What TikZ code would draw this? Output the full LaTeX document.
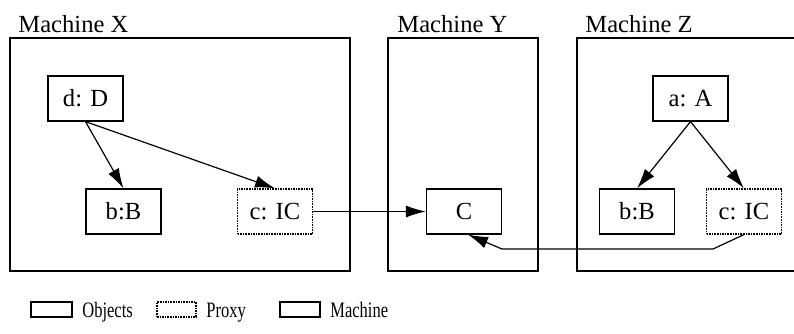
\documentclass[tikz,border=0pt]{standalone}
\usepackage{fontspec}
\setmainfont{Liberation Serif}
\usetikzlibrary{arrows.meta}

\begin{document}
\begin{tikzpicture}[x=0.5pt,y=-0.5pt,
     obj/.style={draw,line width=0.6pt,minimum width=37.5pt,
       minimum height=22.5pt,inner sep=0pt,font=\fontsize{12.3}{14}\selectfont},
     proxy/.style={obj,dash pattern=on 0.8pt off 0.5pt},
     machine/.style={draw,line width=1.4pt,inner sep=0pt},
     lab/.style={inner sep=0pt,anchor=base west,font=\fontsize{12.3}{14}\selectfont},
     key/.style={inner sep=0pt,anchor=base west,font=\fontsize{11}{13}\selectfont},
     link/.style={-{Latex[length=10pt,width=6pt]},line width=0.6pt}]
    \clip (0,0) rectangle (794,333);
    % machines
    \node[machine,minimum width=170pt,minimum height=116.5pt] (mx) at (180,154.5) {};
    \node[machine,minimum width=75pt,minimum height=116.5pt] (my) at (463,154.5) {};
    \node[machine,minimum width=120pt,minimum height=116.5pt] (mz) at (697,154.5) {};
    \node[lab] at (18,32) {Machine X};
    \node[lab] at (397,32) {Machine Y};
    \node[lab] at (585,32) {Machine Z};
    % objects
    \node[obj] (d) at (85.5,98.5) {d: D};
    \node[obj] (bx) at (123.5,211.5) {b:B};
    \node[proxy] (cx) at (275,211.5) {c: IC};
    \node[obj] (c) at (464,211.5) {C};
    \node[obj] (a) at (690.5,98.5) {a: A};
    \node[obj] (bz) at (637,211.5) {b:B};
    \node[proxy] (cz) at (744,211.5) {c: IC};
    \coordinate (k1) at (713,249);
    \coordinate (k2) at (502,249);
    % references
    \draw[link] (d.south) -- (bx.north);
    \draw[link] (d.south) -- (cx.north);
    \draw[link] (cx.east) -- (c.west);
    \draw[link] (a.south) -- (bz.north);
    \draw[link] (a.south) -- (cz.north);
    \draw[link] (cz.south) -- (k1) -- (k2) -- ([xshift=2pt]c.south);
    % legend
    \node[obj,minimum width=20.5pt,minimum height=7.5pt] (lo) at (51.5,309.5) {};
    \node[key] at (82,317) {\scalebox{0.75}[1]{Objects}};
    \node[proxy,minimum width=19.5pt,minimum height=7.5pt] (lp) at (176.5,309.5) {};
    \node[key] at (206,317) {\scalebox{0.75}[1]{Proxy}};
    \node[machine,minimum width=20pt,minimum height=7.5pt] (lm) at (300,309.5) {};
    \node[key] at (330,317) {\scalebox{0.75}[1]{Machine}};
\end{tikzpicture}
\end{document}
